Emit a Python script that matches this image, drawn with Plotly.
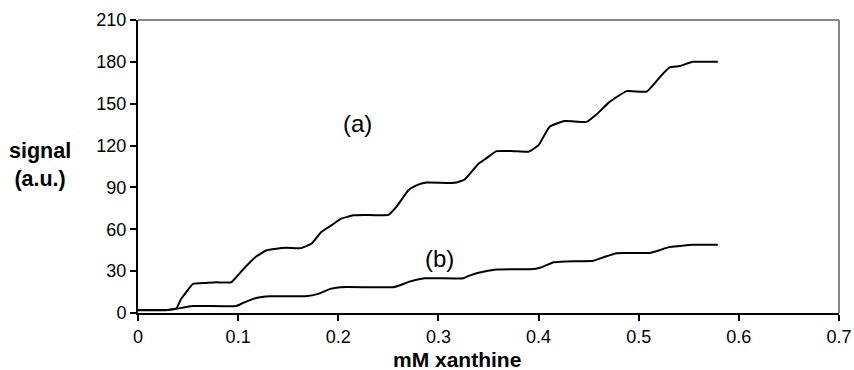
import plotly.graph_objects as go

# curve (a)
xa = [0.0, 0.030, 0.038, 0.043, 0.048, 0.055, 0.068, 0.078, 0.093, 0.098, 0.107, 0.118, 0.128, 0.138,
      0.148, 0.163, 0.173, 0.183, 0.193, 0.203, 0.215, 0.225, 0.250, 0.258, 0.270, 0.278, 0.288,
      0.316, 0.326, 0.340, 0.348, 0.358, 0.375, 0.390, 0.400, 0.411, 0.426, 0.448, 0.458, 0.470,
      0.488, 0.508, 0.523, 0.531, 0.541, 0.554, 0.579]
ya = [2.2, 2.2, 3.0, 10.0, 14.8, 20.8, 21.5, 22.0, 22.0, 25.6, 32.8, 40.5, 44.8, 46.0,
      46.7, 46.5, 49.6, 58.0, 62.8, 67.6, 70.0, 70.3, 70.3, 76.0, 88.0, 91.5, 93.5,
      93.3, 95.6, 107.0, 111.0, 116.0, 116.0, 115.6, 120.3, 133.5, 137.6, 137.0, 142.4, 150.8,
      159.0, 158.7, 170.6, 176.0, 177.0, 180.0, 180.0]

# curve (b)
xb = [0.0, 0.028, 0.038, 0.055, 0.098, 0.105, 0.118, 0.132, 0.167, 0.180, 0.192, 0.202, 0.255,
      0.261, 0.271, 0.286, 0.325, 0.331, 0.340, 0.358, 0.396, 0.403, 0.415, 0.428, 0.455, 0.465,
      0.478, 0.511, 0.520, 0.530, 0.541, 0.554, 0.579]
yb = [2.0, 2.0, 3.0, 5.0, 5.0, 7.2, 10.8, 12.0, 12.0, 13.7, 17.3, 18.5, 18.5,
      19.7, 22.5, 24.9, 24.9, 26.8, 28.8, 31.1, 31.6, 32.8, 36.4, 37.0, 37.5, 40.0,
      42.9, 43.0, 44.8, 47.2, 48.0, 48.9, 48.9]

x_ticks = [0, 0.1, 0.2, 0.3, 0.4, 0.5, 0.6, 0.7]
x_tick_labels = ["0", "0.1", "0.2", "0.3", "0.4", "0.5", "0.6", "0.7"]
y_ticks = [0, 30, 60, 90, 120, 150, 180, 210]

FONT = "Liberation Sans, Arial, sans-serif"

fig = go.Figure()
for xs, ys in [(xa, ya), (xb, yb)]:
    fig.add_trace(go.Scatter(x=xs, y=ys, mode="lines",
                             line=dict(color="black", width=2, shape="spline", smoothing=0.4),
                             showlegend=False, hoverinfo="skip"))

fig.update_layout(
    width=854, height=370,
    margin=dict(l=138, r=15, t=20, b=57),
    paper_bgcolor="white", plot_bgcolor="white",
    font=dict(family=FONT, color="black", size=18),
    xaxis=dict(range=[0, 0.7], tickvals=x_ticks, ticktext=x_tick_labels, automargin=False,
               showgrid=False, zeroline=False, showline=True, linecolor="black", linewidth=2,
               ticks="outside", ticklen=6, tickwidth=1.5, tickcolor="black",
               tickfont=dict(size=18, family=FONT)),
    yaxis=dict(range=[0, 210], tickvals=y_ticks, automargin=False,
               showgrid=False, zeroline=False, showline=True, linecolor="black", linewidth=2,
               ticks="outside", ticklen=6, tickwidth=1.5, tickcolor="black",
               tickfont=dict(size=18, family=FONT)),
    shapes=[
        dict(type="line", xref="paper", yref="paper", x0=0, x1=1, y0=1, y1=1,
             line=dict(color="#888888", width=2)),
        dict(type="line", xref="paper", yref="paper", x0=1, x1=1, y0=0, y1=1,
             line=dict(color="#888888", width=2)),
    ],
    annotations=[
        dict(text="<b>mM xanthine</b>", xref="paper", yref="paper", x=(457 - 138) / 701, y=0,
             yshift=-46, showarrow=False, font=dict(size=21, family=FONT), xanchor="center",
             yanchor="middle"),
        dict(text="<b>signal</b><br><b>(a.u.)</b>", xref="paper", yref="paper", x=0, xshift=-98,
             y=(313 - 165) / 293, showarrow=False, font=dict(size=21.5, family=FONT),
             xanchor="center", yanchor="middle", align="center"),
        dict(text="(a)", x=0.219, y=136, showarrow=False, font=dict(size=24, family=FONT)),
        dict(text="(b)", x=0.301, y=39, showarrow=False, font=dict(size=24, family=FONT)),
    ],
)

fig.write_html("out.html")
